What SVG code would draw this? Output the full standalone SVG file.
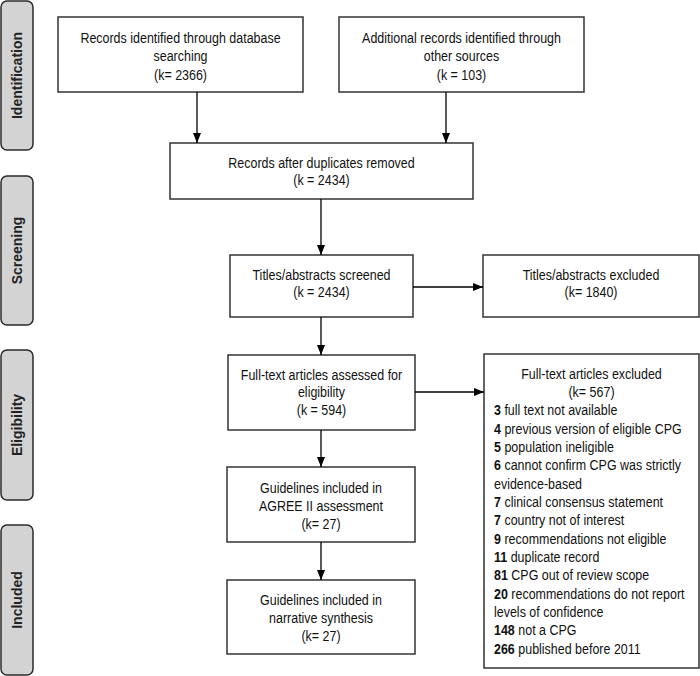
<svg xmlns="http://www.w3.org/2000/svg" width="700" height="676" viewBox="0 0 700 676">
<defs>
<marker id="ah" markerUnits="userSpaceOnUse" markerWidth="10" markerHeight="10" viewBox="0 0 10 10" refX="10" refY="5" orient="auto">
<path d="M0,1 L10,5 L0,9 Z" fill="#000"/>
</marker>
<style>
.stage rect{fill:#d3d3d3;stroke:#2b2b2b;stroke-width:1.5}
.stage text{font-family:"Liberation Sans",Arial,sans-serif;font-weight:bold;font-size:14px;fill:#222;text-anchor:middle}
.box rect{fill:#fff;stroke:#333;stroke-width:1.5}
.box text{font-family:"Liberation Sans",Arial,sans-serif;font-size:14.5px;fill:#111;text-anchor:middle}
.box .l text{text-anchor:start}
#connectors line{stroke:#000;stroke-width:1.3;marker-end:url(#ah)}
</style>
</defs>
<rect width="700" height="676" fill="#fff"/>
<g id="stage-identification" class="stage"><rect x="1" y="1" width="32" height="149" rx="6"/><text transform="translate(22,75.5) rotate(-90)">Identification</text></g>
<g id="stage-screening" class="stage"><rect x="1" y="176" width="32" height="149" rx="6"/><text transform="translate(22,250.5) rotate(-90)">Screening</text></g>
<g id="stage-eligibility" class="stage"><rect x="1" y="350" width="32" height="150" rx="6"/><text transform="translate(22,425) rotate(-90)">Eligibility</text></g>
<g id="stage-included" class="stage"><rect x="1" y="525" width="32" height="150" rx="6"/><text transform="translate(22,600) rotate(-90)">Included</text></g>

<g id="db-records" class="box"><rect x="58" y="17" width="245" height="75"/>
<g transform="translate(180.5 0) scale(0.86 1)">
<text x="0" y="43">Records identified through database</text>
<text x="0" y="61.5">searching</text>
<text x="0" y="80">(k= 2366)</text></g></g>

<g id="other-records" class="box"><rect x="339" y="17" width="245" height="75"/>
<g transform="translate(461.5 0) scale(0.86 1)">
<text x="0" y="43">Additional records identified through</text>
<text x="0" y="61.5">other sources</text>
<text x="0" y="80">(k = 103)</text></g></g>

<g id="dedup" class="box"><rect x="170" y="143" width="303" height="56"/>
<g transform="translate(321.5 0) scale(0.86 1)">
<text x="0" y="168">Records after duplicates removed</text>
<text x="0" y="185">(k = 2434)</text></g></g>

<g id="screened" class="box"><rect x="230" y="255" width="183" height="62"/>
<g transform="translate(321.5 0) scale(0.86 1)">
<text x="0" y="280">Titles/abstracts screened</text>
<text x="0" y="297">(k = 2434)</text></g></g>

<g id="screen-excluded" class="box"><rect x="483" y="255" width="216" height="62"/>
<g transform="translate(591 0) scale(0.86 1)">
<text x="0" y="280">Titles/abstracts excluded</text>
<text x="0" y="297">(k= 1840)</text></g></g>

<g id="fulltext" class="box"><rect x="228" y="355" width="187" height="75"/>
<g transform="translate(321.5 0) scale(0.86 1)">
<text x="0" y="380">Full-text articles assessed for</text>
<text x="0" y="397.5">eligibility</text>
<text x="0" y="415">(k = 594)</text></g></g>

<g id="fulltext-excluded" class="box"><rect x="484" y="354" width="215" height="314"/>
<g transform="translate(591.5 0) scale(0.86 1)">
<text x="0" y="378.7">Full-text articles excluded</text>
<text x="0" y="397">(k= 567)</text></g>
<g class="l" transform="translate(494 0) scale(0.86 1)">
<text x="0" y="415.3"><tspan font-weight="bold">3</tspan> full text not available</text>
<text x="0" y="433.7"><tspan font-weight="bold">4</tspan> previous version of eligible CPG</text>
<text x="0" y="452"><tspan font-weight="bold">5</tspan> population ineligible</text>
<text x="0" y="470.3"><tspan font-weight="bold">6</tspan> cannot confirm CPG was strictly</text>
<text x="0" y="488.6">evidence-based</text>
<text x="0" y="507"><tspan font-weight="bold">7</tspan> clinical consensus statement</text>
<text x="0" y="525.3"><tspan font-weight="bold">7</tspan> country not of interest</text>
<text x="0" y="543.6"><tspan font-weight="bold">9</tspan> recommendations not eligible</text>
<text x="0" y="562"><tspan font-weight="bold">11</tspan> duplicate record</text>
<text x="0" y="580.3"><tspan font-weight="bold">81</tspan> CPG out of review scope</text>
<text x="0" y="598.6"><tspan font-weight="bold">20</tspan> recommendations do not report</text>
<text x="0" y="617">levels of confidence</text>
<text x="0" y="635.3"><tspan font-weight="bold">148</tspan> not a CPG</text>
<text x="0" y="653.6"><tspan font-weight="bold">266</tspan> published before 2011</text></g></g>

<g id="agree" class="box"><rect x="227" y="467" width="188" height="75"/>
<g transform="translate(321 0) scale(0.86 1)">
<text x="0" y="492.7">Guidelines included in</text>
<text x="0" y="511">AGREE II assessment</text>
<text x="0" y="529">(k= 27)</text></g></g>

<g id="narrative" class="box"><rect x="227" y="580" width="188" height="74"/>
<g transform="translate(321 0) scale(0.86 1)">
<text x="0" y="605">Guidelines included in</text>
<text x="0" y="623">narrative synthesis</text>
<text x="0" y="641">(k= 27)</text></g></g>

<g id="connectors">
<line x1="197" y1="92" x2="197" y2="143"/>
<line x1="446" y1="92" x2="446" y2="143"/>
<line x1="321" y1="199" x2="321" y2="255"/>
<line x1="413" y1="287" x2="483" y2="287"/>
<line x1="321" y1="317" x2="321" y2="355"/>
<line x1="415" y1="392" x2="484" y2="392"/>
<line x1="321" y1="430" x2="321" y2="467"/>
<line x1="321" y1="542" x2="321" y2="580"/>
</g>
</svg>
